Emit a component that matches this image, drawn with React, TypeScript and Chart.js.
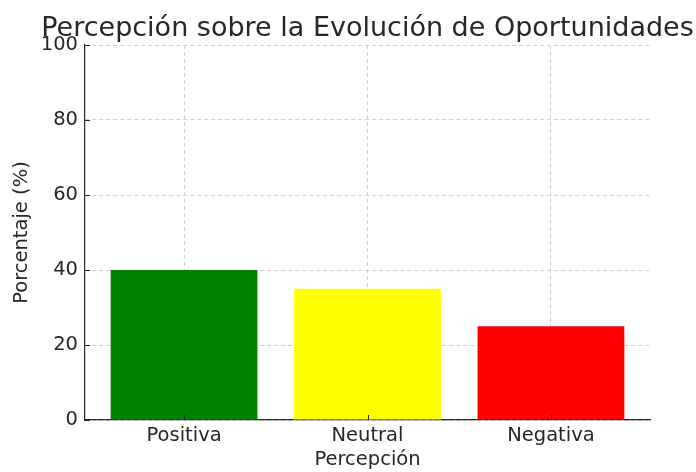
import React, { useEffect, useRef } from "react";
import { Chart, registerables } from "chart.js";

Chart.register(...registerables);

const TITLE = "Percepción sobre la Evolución de Oportunidades";
const X_LABEL = "Percepción";
const Y_LABEL = "Porcentaje (%)";
const categories = ["Positiva", "Neutral", "Negativa"];
const values = [40, 35, 25];
const barColors = ["#008000", "#ffff00", "#ff0000"];
const yTicks = [0, 20, 40, 60, 80, 100];

const FONT = "'DejaVu Sans', sans-serif";
const TEXT = "#262626";
const GRID = "#cfcfcf";

export default function App() {
  const ref = useRef<HTMLCanvasElement | null>(null);

  useEffect(() => {
    if (!ref.current) return;

    const extras = {
      id: "extras",
      afterDraw(chart: any) {
        const ctx = chart.ctx;
        const a = chart.chartArea;
        ctx.save();
        ctx.fillStyle = TEXT;
        ctx.font = `27px ${FONT}`;
        ctx.textAlign = "center";
        ctx.textBaseline = "alphabetic";
        ctx.fillText(TITLE, (a.left + a.right) / 2, 36);
        ctx.strokeStyle = TEXT;
        ctx.lineWidth = 1;
        const ys = chart.scales.y;
        yTicks.forEach((t) => {
          const py = Math.round(ys.getPixelForValue(t)) + 0.5;
          ctx.beginPath();
          ctx.moveTo(a.left, py);
          ctx.lineTo(a.left + 5, py);
          ctx.stroke();
        });
        const xs = chart.scales.x;
        categories.forEach((_, i) => {
          const px = Math.round(xs.getPixelForValue(i)) + 0.5;
          ctx.beginPath();
          ctx.moveTo(px, a.bottom);
          ctx.lineTo(px, a.bottom - 5);
          ctx.stroke();
        });
        ctx.restore();
      },
    };

    const chart = new Chart(ref.current, {
      type: "bar",
      data: {
        datasets: [
          {
            data: values.map((v, i) => ({ x: i, y: v })),
            backgroundColor: barColors,
            borderWidth: 0,
            categoryPercentage: 1,
            barPercentage: 0.8,
          },
        ],
      },
      options: {
        responsive: false,
        animation: false,
        layout: { padding: { top: 45, right: 46, left: 0, bottom: 0 } },
        plugins: {
          legend: { display: false },
          title: { display: false },
          tooltip: { enabled: false },
        },
        scales: {
          x: {
            type: "linear",
            min: -0.54,
            max: 2.54,
            offset: false,
            z: 1,
            afterBuildTicks: (s: any) => {
              s.ticks = categories.map((_, i) => ({ value: i }));
            },
            afterFit: (s: any) => {
              s.height = 52;
            },
            ticks: {
              callback: (v: any) => categories[Math.round(Number(v))] ?? "",
              color: TEXT,
              font: { family: FONT, size: 19.5 },
              padding: 4,
              maxRotation: 0,
              autoSkip: false,
            },
            grid: {
              offset: false,
              drawTicks: false,
              color: GRID,
              lineWidth: 1,
            },
            border: { display: true, color: TEXT, width: 1.2, dash: [4, 3] },
            title: {
              display: true,
              text: X_LABEL,
              color: TEXT,
              font: { family: FONT, size: 19.5 },
              padding: { top: 0, bottom: 0 },
            },
          },
          y: {
            min: 0,
            max: 100,
            z: 1,
            afterBuildTicks: (s: any) => {
              s.ticks = yTicks.map((v) => ({ value: v }));
            },
            afterFit: (s: any) => {
              s.width = 85;
            },
            ticks: {
              color: TEXT,
              font: { family: FONT, size: 19.5 },
              padding: 7,
            },
            grid: {
              drawTicks: false,
              color: GRID,
              lineWidth: 1,
            },
            border: { display: true, color: TEXT, width: 1.2, dash: [4, 3] },
            title: {
              display: true,
              text: Y_LABEL,
              color: TEXT,
              font: { family: FONT, size: 19.5 },
              padding: { top: 10, bottom: 0 },
            },
          },
        },
      } as any,
      plugins: [extras],
    });

    return () => chart.destroy();
  }, []);

  return (
    <div style={{ position: "absolute", left: 0, top: 0, width: 696, height: 472 }}>
      <canvas ref={ref} width={696} height={472} style={{ width: 696, height: 472 }} />
    </div>
  );
}
